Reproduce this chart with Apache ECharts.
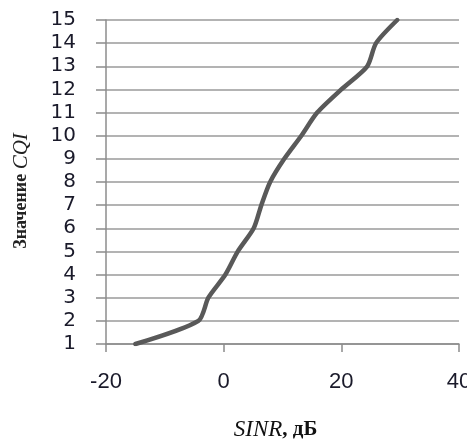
<!DOCTYPE html>
<html><head><meta charset="utf-8">
<script src="https://cdn.jsdelivr.net/npm/echarts@6/dist/echarts.min.js"></script>
<style>html,body{margin:0;padding:0;background:#fff}#c{width:467px;height:441px}</style>
</head><body><div id="c"></div>
<script>
const cqi = [1,2,3,4,5,6,7,8,9,10,11,12,13,14,15];
const sinr = [-15,-4.3,-2.6,0.3,2.4,5.1,6.4,7.9,10.3,13.2,15.9,20.0,24.4,25.9,29.5];
const xTicks = [-20,0,20,40];
const yTicks = cqi;

const chart = echarts.init(document.getElementById('c'), null, {renderer:'canvas'});
chart.setOption({
  animation:false,
  grid:{left:106, right:8, top:20, bottom:97, containLabel:false, outerBoundsMode:'none'},
  xAxis:{
    type:'value', min:-20, max:40, interval:20,
    name:'{i|SINR}{n|, дБ}', nameLocation:'middle', nameGap:74,
    nameTextStyle:{padding:[0,14,0,0], rich:{
      i:{fontFamily:'Liberation Serif', fontStyle:'italic', fontSize:23, color:'#111'},
      n:{fontFamily:'Liberation Serif', fontWeight:'bold', fontSize:21, color:'#111'}
    }},
    axisLine:{show:true, onZero:false, lineStyle:{color:'#8c8c8c', width:1.5}},
    axisTick:{show:true, inside:false, length:8, lineStyle:{color:'#8c8c8c', width:1.5}},
    axisLabel:{fontFamily:'Liberation Sans', fontSize:22, color:'#1a1a2a', margin:27},
    splitLine:{show:false}
  },
  yAxis:{
    type:'value', min:1, max:15, interval:1,
    name:'{n|Значение }{i|CQI}', nameLocation:'middle', nameGap:74, nameRotate:90,
    nameTextStyle:{padding:[0,18,0,0], rich:{
      i:{fontFamily:'Liberation Serif', fontStyle:'italic', fontSize:21, color:'#222'},
      n:{fontFamily:'Liberation Serif', fontWeight:'bold', fontSize:18, color:'#222'}
    }},
    axisLine:{show:true, onZero:false, lineStyle:{color:'#8c8c8c', width:1.5}},
    axisTick:{show:true, inside:false, length:10, lineStyle:{color:'#8c8c8c', width:1.5}},
    axisLabel:{fontFamily:'DejaVu Sans', fontSize:20, color:'#1a1a2a', margin:30},
    splitLine:{show:true, lineStyle:{color:'#9a9a9a', width:1.5}}
  },
  series:[{
    type:'line',
    data: cqi.map((c,i)=>[sinr[i], c]),
    smooth:0.25,
    showSymbol:false,
    lineStyle:{color:'#595959', width:4.5, cap:'round'},
    itemStyle:{color:'#595959'}
  }]
});
</script></body></html>
